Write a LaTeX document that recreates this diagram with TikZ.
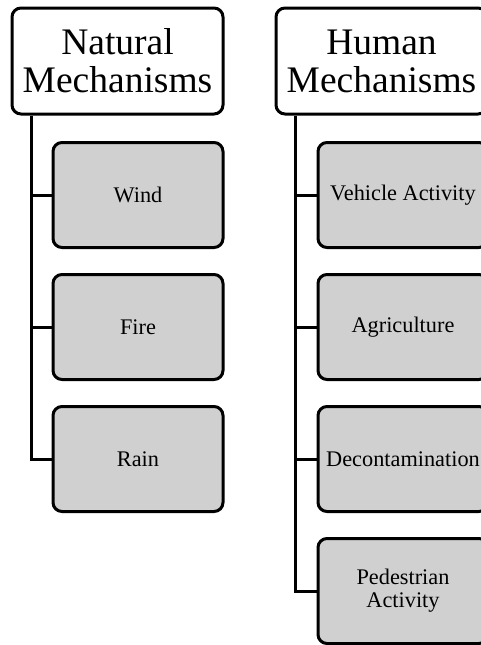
\documentclass[tikz,border=0pt]{standalone}
\usepackage{fontspec}
\setmainfont{Liberation Serif}
\usetikzlibrary{positioning}

\tikzset{
  head/.style={draw, line width=3pt, rounded corners=9pt, fill=white,
    minimum width=211pt, minimum height=106pt, inner sep=0pt, align=center,
    font=\fontsize{37.5}{38}\selectfont},
  leaf/.style={draw, line width=3pt, rounded corners=9pt, fill=leafgray,
    minimum width=170pt, minimum height=105pt, inner sep=0pt, align=center,
    font=\fontsize{22.3}{23}\selectfont},
  trunk/.style={line width=3pt}
}
\definecolor{leafgray}{RGB}{208,208,208}

\begin{document}
\begin{tikzpicture}[x=1pt, y=-1pt]
  \useasboundingbox (0,0) rectangle (481,645);

  % natural side
  \node[head] (nat) at (117.5,61) {Natural\\Mechanisms};
  \node[leaf] (wind) at (138,195) {Wind};
  \node[leaf] (fire) at (138,327) {Fire};
  \node[leaf] (rain) at (138,459) {Rain};

  % human side
  \node[head] (hum) at (381.5,61) {Human\\Mechanisms};
  \node[leaf] (veh) at (403,195) {Vehicle Activity};
  \node[leaf] (agr) at (403,327) {Agriculture};
  \node[leaf] (dec) at (403,459) {Decontamination};
  \node[leaf] (ped) at (403,591) {Pedestrian\\Activity};

  \coordinate (nt) at ([xshift=21pt]nat.south west);
  \coordinate (ht) at ([xshift=21pt]hum.south west);

  \draw[trunk] (nt) |- (rain);
  \draw[trunk] (nt |- wind) -- (wind);
  \draw[trunk] (nt |- fire) -- (fire);

  \draw[trunk] (ht) |- (ped);
  \draw[trunk] (ht |- veh) -- (veh);
  \draw[trunk] (ht |- agr) -- (agr);
  \draw[trunk] (ht |- dec) -- (dec);
\end{tikzpicture}
\end{document}
